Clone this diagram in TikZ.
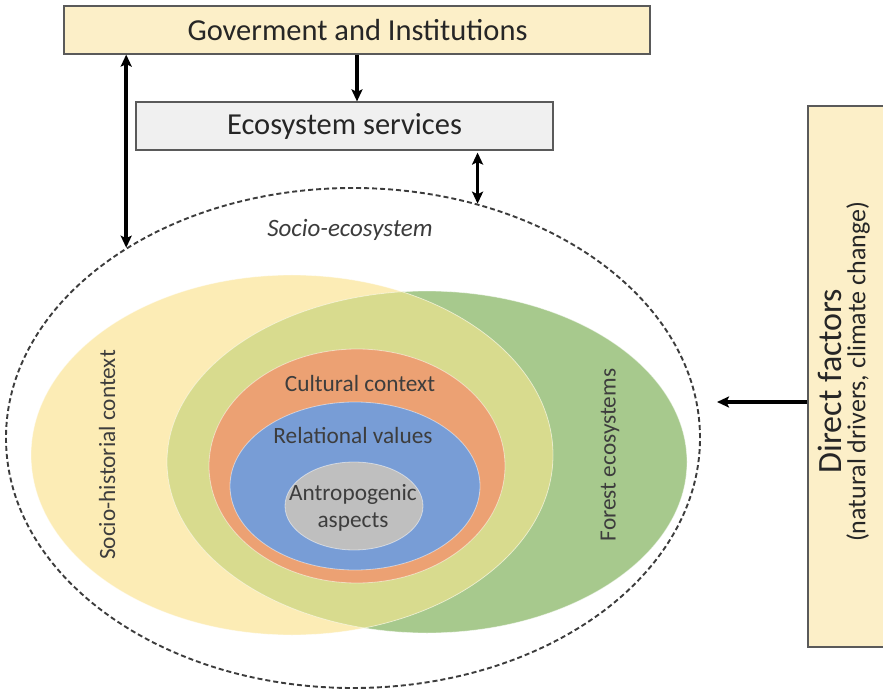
\documentclass[tikz,border=0pt]{standalone}
\usepackage{fontspec}
\setmainfont{Carlito}
\usetikzlibrary{arrows.meta,shapes.geometric}
\definecolor{boxyel}{HTML}{FCEFC8}
\definecolor{boxgray}{HTML}{F0F0F0}
\definecolor{bord}{HTML}{5A5A5A}
\definecolor{yel}{HTML}{FCECB5}
\definecolor{grn}{HTML}{A7C98D}
\definecolor{ovl}{HTML}{D8DB8E}
\definecolor{org}{HTML}{ECA173}
\definecolor{blu}{HTML}{789DD6}
\definecolor{gry}{HTML}{BFBFBF}
\definecolor{txt}{HTML}{262626}
\definecolor{txt2}{HTML}{3D3D3D}
\definecolor{dashc}{HTML}{3C3C3C}
\begin{document}
\begin{tikzpicture}[x=1pt,y=-1pt,
  topbox/.style={draw=bord, line width=1.2pt, fill=boxyel, inner sep=0pt},
  ecobox/.style={draw=bord, line width=1.2pt, fill=boxgray, inner sep=0pt},
  boxtxt/.style={text=txt, inner sep=0pt, font=\fontsize{30.5}{36}\selectfont},
  lbl/.style={text=txt2, inner sep=0pt, font=\fontsize{23.3}{27}\selectfont},
  ring/.style={draw=white, draw opacity=0.5, line width=0.8pt},
  conn/.style={line width=3.5pt, black, -{Stealth[length=12pt,width=11pt,inset=2.5pt]}},
  dconn/.style={line width=3.5pt, black, {Stealth[length=12pt,width=11pt,inset=2.5pt]}-{Stealth[length=12pt,width=11pt,inset=2.5pt]}},
]
\useasboundingbox (0,0) rectangle (883,692);

% ellipses
\fill[grn] (427,462) ellipse [x radius=260pt, y radius=171pt];
\fill[yel] (292,455) ellipse [x radius=261pt, y radius=180pt];
\begin{scope}
  \clip (292,455) ellipse [x radius=261pt, y radius=180pt];
  \fill[ovl] (427,462) ellipse [x radius=260pt, y radius=171pt];
\end{scope}
\draw[ring] (427,462) ellipse [x radius=260pt, y radius=171pt];
\draw[ring] (292,455) ellipse [x radius=261pt, y radius=180pt];
\filldraw[fill=org, ring] (357,466) ellipse [x radius=148pt, y radius=117pt];
\filldraw[fill=blu, ring] (355,486) ellipse [x radius=125pt, y radius=84pt];
\filldraw[fill=gry, ring] (354,506) ellipse [x radius=69pt, y radius=44pt];

% dashed socio-ecosystem boundary
\node[draw=dashc, dash pattern=on 5pt off 3pt, line width=1.9pt, ellipse,
      minimum width=694pt, minimum height=500pt, inner sep=0pt] (socio) at (353,438) {};

% labels
\node[text=dashc, inner sep=0pt, font=\fontsize{25}{30}\selectfont\itshape] (se) at (350,230) {Socio-ecosystem};
\node[lbl, rotate=90] (shc) at (107,455) {Socio-historial context};
\node[lbl, rotate=90] (fe) at (610,455) {Forest ecosystems};
\node[lbl] (cul) at (360,383) {Cultural context};
\node[lbl] (rel) at (353,435) {Relational values};
\node[lbl, align=center] (ant) at (353,508) {Antropogenic\\aspects};

% boxes
\node[topbox, minimum width=586pt, minimum height=48pt] (gov) at (357,30) {};
\node[boxtxt] (govt) at (357.5,30) {Goverment and Institutions};
\node[ecobox, minimum width=417pt, minimum height=48pt] (eco) at (344.5,126) {};
\node[boxtxt] (ecot) at (344.5,126) {Ecosystem services};
\node[topbox, minimum width=84pt, minimum height=541pt] (dfac) at (850,376.5) {};
\node[text=txt, inner sep=0pt, rotate=90, font=\fontsize{34}{40}\selectfont] (df1) at (830,381) {Direct factors};
\node[text=txt, inner sep=0pt, rotate=90, font=\fontsize{26}{30}\selectfont] (df2) at (858,372) {(natural drivers, climate change)};

% connectors
\draw[conn] (gov.south) -- (gov.south |- eco.north);
\draw[dconn] (gov.south -| socio.140) -- (socio.140);
\draw[dconn] ([yshift=-2pt]eco.south -| socio.62) -- (socio.62);
\coordinate (dtip) at (717,402);
\draw[conn] (dfac.west |- dtip) -- (dtip);
\end{tikzpicture}
\end{document}
